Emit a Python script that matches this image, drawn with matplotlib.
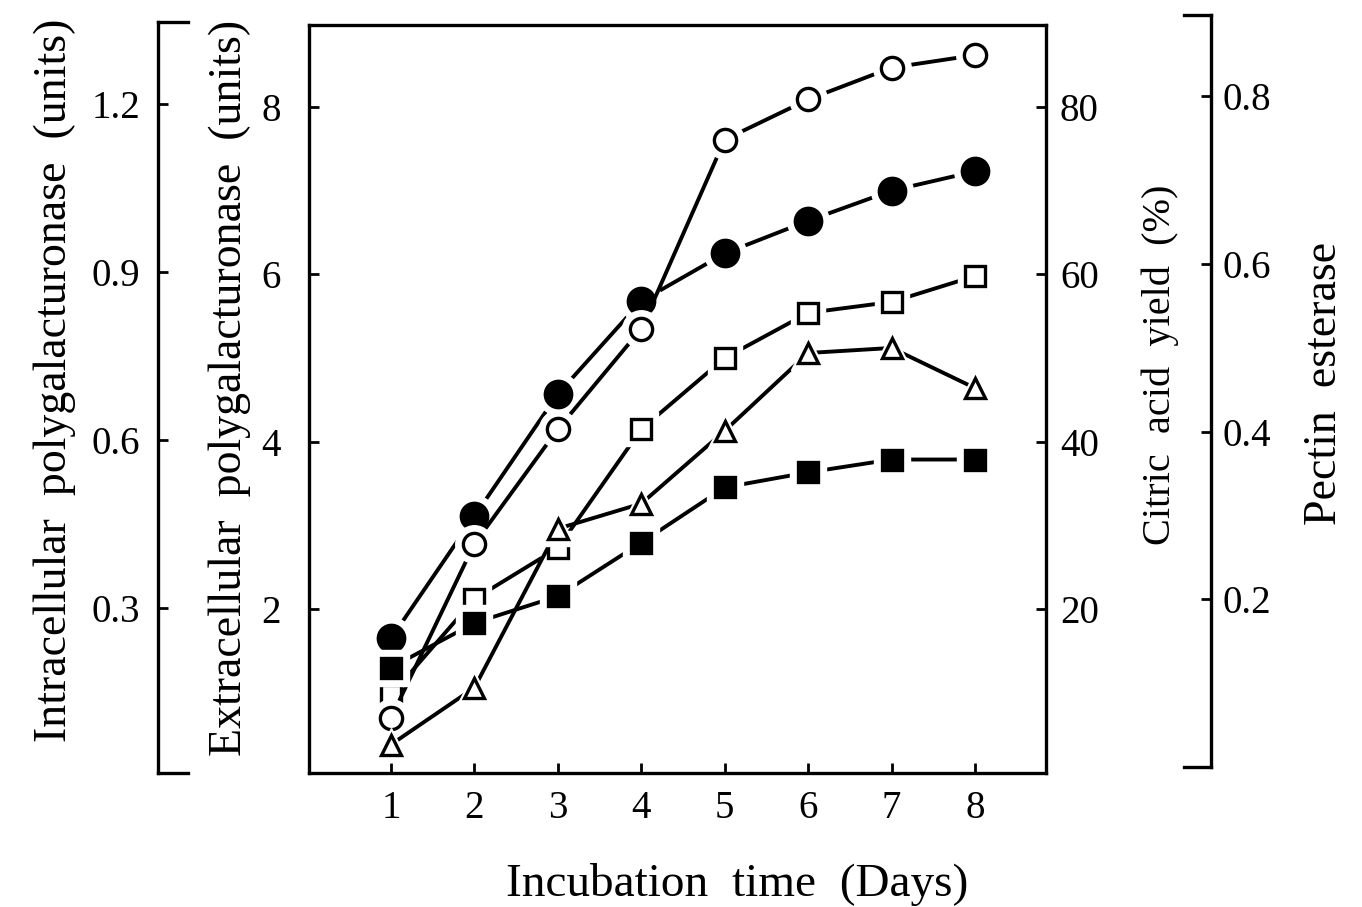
import numpy as np
import matplotlib
matplotlib.use("Agg")
import matplotlib.pyplot as plt

plt.rcParams['font.family'] = ['Liberation Serif', 'DejaVu Serif']

days = [1, 2, 3, 4, 5, 6, 7, 8]
# citric acid yield (%) - open circles
citric = [7.0, 27.8, 41.5, 53.5, 76.1, 80.9, 84.7, 86.2]
# extracellular polygalacturonase (units) - filled circles
ext_pg = [1.65, 3.11, 4.57, 5.68, 6.25, 6.64, 7.00, 7.23]
# open squares (units, extracellular scale)
ext_pg2 = [0.97, 2.12, 2.73, 4.15, 5.00, 5.54, 5.67, 5.98]
# intracellular polygalacturonase (units) - filled squares
int_pg = [0.195, 0.275, 0.323, 0.419, 0.518, 0.545, 0.568, 0.568]
# pectin esterase - triangles
pectin = [0.038, 0.106, 0.296, 0.326, 0.413, 0.506, 0.512, 0.464]

W, H = 1362, 907
fig = plt.figure(figsize=(W / 100, H / 100), dpi=100)

def fx(px):
    return px / W

def fy(py):
    return 1 - py / H

lw_sp = 2.4
tsize = 28
ax = fig.add_axes([fx(309), fy(773), fx(1046) - fx(309), fy(25) - fy(773)])
ax.set_xlim(0.017, 8.85)
ax.set_ylim(0.04, 8.98)
for s in ax.spines.values():
    s.set_linewidth(lw_sp)
ax.set_xticks(days)
ax.set_yticks([2, 4, 6, 8])
ax.tick_params(direction='in', length=7, width=2, labelsize=tsize, pad=12)
ax.tick_params(axis='y', pad=20)

# citric acid axis on right of main box
axc = ax.twinx()
axc.set_ylim(0.4, 89.8)
axc.set_yticks([20, 40, 60, 80])
axc.tick_params(direction='in', length=7, width=2, labelsize=tsize, pad=10)
for s in axc.spines.values():
    s.set_visible(False)

# hidden twins for other scales
axi = ax.twinx()
axi.set_ylim(0.04 * 0.15, 8.98 * 0.15)
axi.axis('off')
axp = ax.twinx()
axp.set_ylim(0.004, 0.898)
axp.axis('off')

# separate intracellular axis on the far left
axL = fig.add_axes([fx(158), fy(773), 0.001, fy(22) - fy(773)])
axL.set_ylim(0.04 * 0.15, 8.98 * 0.15)
axL.set_yticks([0.3, 0.6, 0.9, 1.2])
axL.set_yticklabels(['0.3', '0.6', '0.9', '1.2'])
axL.set_xticks([])
for k in ['top', 'bottom', 'right']:
    axL.spines[k].set_visible(False)
axL.spines['left'].set_linewidth(lw_sp)
axL.tick_params(axis='y', direction='in', length=7, width=2, labelsize=tsize, pad=13)
axL.plot([0, 30 / 1.362], [1, 1], transform=axL.transAxes, color='k', lw=lw_sp, clip_on=False)
axL.plot([0, 30 / 1.362], [0, 0], transform=axL.transAxes, color='k', lw=lw_sp, clip_on=False)

# separate pectin esterase axis on the far right
axR = fig.add_axes([fx(1211) - 0.001, fy(767), 0.001, fy(15) - fy(767)])
axR.set_ylim(0.0, 0.897)
axR.yaxis.tick_right()
axR.set_yticks([0.2, 0.4, 0.6, 0.8])
axR.set_yticklabels(['0.2', '0.4', '0.6', '0.8'])
axR.set_xticks([])
for k in ['top', 'bottom', 'left']:
    axR.spines[k].set_visible(False)
axR.spines['right'].set_linewidth(lw_sp)
axR.tick_params(axis='y', direction='in', length=7, width=2, labelsize=tsize, pad=8)
axR.plot([1, 1 - 27 / 1.362], [1, 1], transform=axR.transAxes, color='k', lw=lw_sp, clip_on=False)
axR.plot([1, 1 - 27 / 1.362], [0, 0], transform=axR.transAxes, color='k', lw=lw_sp, clip_on=False)

series = [
    (ax, ext_pg, 'o', 'k', 19),
    (axc, citric, 'o', 'white', 16),
    (ax, ext_pg2, 's', 'white', 14),
    (axp, pectin, '^', 'white', 14),
    (axi, int_pg, 's', 'k', 15),
]
for a, vals, m, fc, ms in series:
    a.plot(days, vals, color='k', lw=2.8, zorder=2)
for a, vals, m, fc, ms in series:
    a.plot(days, vals, ls='none', marker=m, ms=ms + 11, mfc='white', mec='white', zorder=3)
for a, vals, m, fc, ms in series:
    a.plot(days, vals, ls='none', marker=m, ms=ms, mfc=fc, mec='k', mew=2.4, zorder=4)

fig.text(fx(55), fy(380), 'Intracellular  polygalacturonase  (units)', rotation=90,
         ha='center', va='center', fontsize=33)
fig.text(fx(230), fy(388), 'Extracellular  polygalacturonase  (units)', rotation=90,
         ha='center', va='center', fontsize=33)
fig.text(fx(1160), fy(365), 'Citric  acid  yield  (%)', rotation=90,
         ha='center', va='center', fontsize=29)
fig.text(fx(1325), fy(383), 'Pectin  esterase', rotation=90,
         ha='center', va='center', fontsize=33)
fig.text(fx(737), fy(885), 'Incubation  time  (Days)', ha='center', va='center', fontsize=34)

fig.savefig('out.png', dpi=100)
